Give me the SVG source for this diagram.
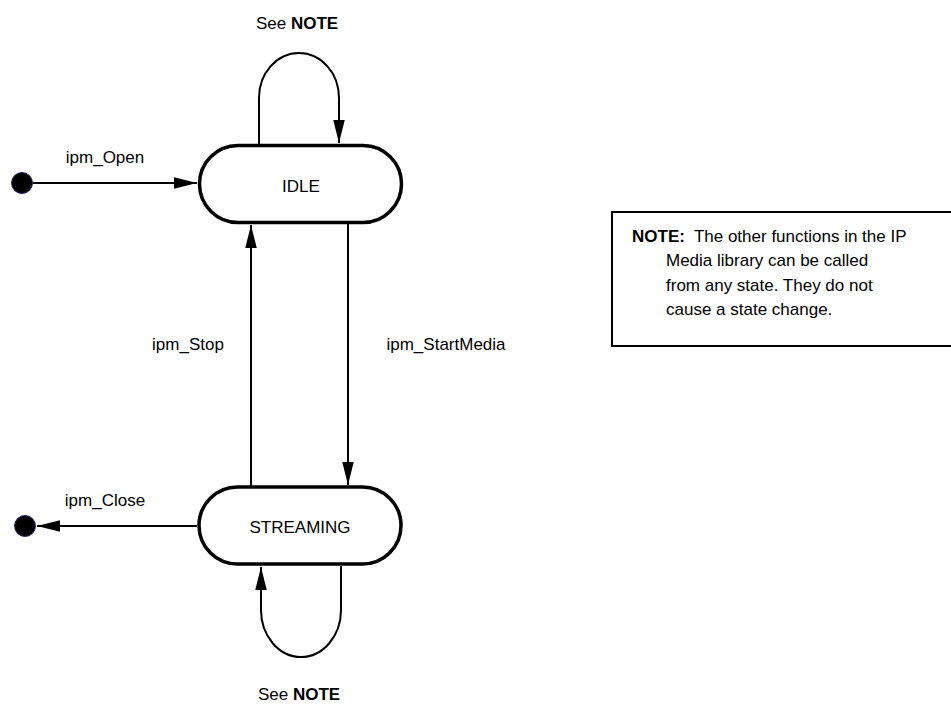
<svg xmlns="http://www.w3.org/2000/svg" width="951" height="710" viewBox="0 0 951 710">
  <style>
    text { font-family: "Liberation Sans", Arial, sans-serif; font-size: 17px; fill: #000; }
    .bold { font-weight: bold; }
    .state { fill: #fff; stroke: #000; stroke-width: 3.5; }
    .edge { fill: none; stroke: #000; stroke-width: 2; }
    .pseudo { fill: #000; stroke: #2a2a70; stroke-width: 1; }
    .note { fill: #fff; stroke: #000; stroke-width: 2; }
  </style>
  <defs>
    <marker id="arrow" markerUnits="userSpaceOnUse" markerWidth="23" markerHeight="12" refX="23" refY="5.75" orient="auto">
      <path d="M0,0 L23,5.75 L0,11.5 z" fill="#000"/>
    </marker>
  </defs>

  <rect width="951" height="710" fill="#fff"/>

  <!-- transitions -->
  <g id="connectors">
    <line class="edge" x1="22" y1="183" x2="197" y2="183" marker-end="url(#arrow)"/>
    <path class="edge" d="M259,144 V98 A40,45 0 0 1 339,98 V143" marker-end="url(#arrow)"/>
    <line class="edge" x1="348" y1="224" x2="348" y2="485" marker-end="url(#arrow)"/>
    <line class="edge" x1="251" y1="486" x2="251" y2="225" marker-end="url(#arrow)"/>
    <line class="edge" x1="197" y1="526" x2="37" y2="526" marker-end="url(#arrow)"/>
    <path class="edge" d="M341,566 V610 A40,47 0 0 1 261,610 V567" marker-end="url(#arrow)"/>
    <text x="297" y="29" text-anchor="middle">See <tspan class="bold">NOTE</tspan></text>
    <text x="105" y="163" text-anchor="middle">ipm_Open</text>
    <text x="188" y="350" text-anchor="middle">ipm_Stop</text>
    <text x="446" y="350" text-anchor="middle">ipm_StartMedia</text>
    <text x="105" y="506" text-anchor="middle">ipm_Close</text>
    <text x="299" y="700" text-anchor="middle">See <tspan class="bold">NOTE</tspan></text>
  </g>

  <g id="initial">
    <circle class="pseudo" cx="22" cy="183" r="10.5"/>
  </g>

  <g id="final">
    <circle class="pseudo" cx="25" cy="526" r="10.5"/>
  </g>

  <g id="idle">
    <rect class="state" x="199.5" y="145.5" width="202" height="77" rx="38.5"/>
    <text x="301" y="192" text-anchor="middle">IDLE</text>
  </g>

  <g id="streaming">
    <rect class="state" x="199" y="487" width="202" height="77" rx="38.5"/>
    <text x="300" y="533" text-anchor="middle">STREAMING</text>
  </g>

  <g id="note">
    <rect class="note" x="612" y="212" width="360" height="134"/>
    <text x="632" y="242"><tspan class="bold">NOTE:</tspan><tspan dx="9">The other functions in the IP</tspan></text>
    <text x="666" y="266">Media library can be called</text>
    <text x="666" y="291">from any state. They do not</text>
    <text x="666" y="315">cause a state change.</text>
  </g>
</svg>
